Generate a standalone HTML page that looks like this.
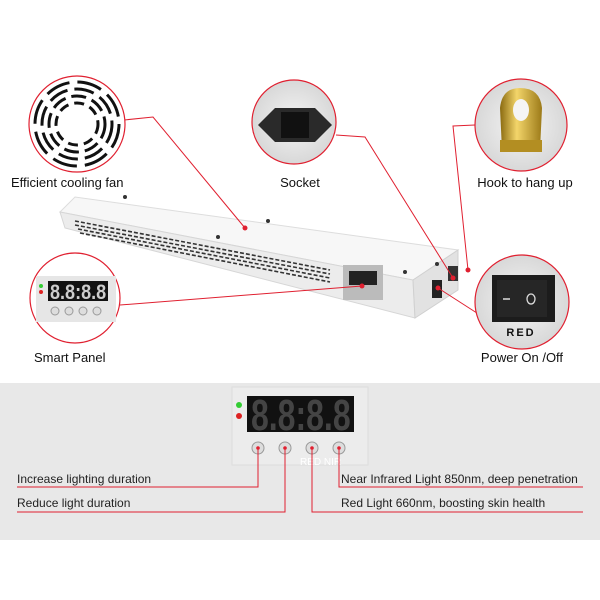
<!DOCTYPE html>
<html><head><meta charset="utf-8"><style>
body{margin:0;width:600px;height:600px;background:#fff;overflow:hidden;font-family:"Liberation Sans",sans-serif}
svg{display:block}
</style></head><body>
<svg width="600" height="600" viewBox="0 0 600 600" font-family="Liberation Sans, sans-serif">
<defs>
<radialGradient id="cg" cx="50%" cy="50%" r="50%"><stop offset="0" stop-color="#f4f4f4"/><stop offset="1" stop-color="#d8d8d8"/></radialGradient>
<linearGradient id="gold" x1="0" x2="1"><stop offset="0" stop-color="#8a6a10"/><stop offset=".4" stop-color="#f3d56a"/><stop offset="1" stop-color="#9c7a18"/></linearGradient>
</defs>
<!-- device -->
<polygon points="60,212 75,197 458,250 413,280" fill="#f7f7f7" stroke="#ddd"/>
<polygon points="60,212 413,280 415,318 65,228" fill="#ececec" stroke="#d6d6d6"/>
<polygon points="413,280 458,250 458,290 415,318" fill="#e2e2e2" stroke="#d0d0d0"/>
<g stroke="#333" stroke-width="1.6" stroke-dasharray="4 2">
<line x1="75" y1="221" x2="330" y2="270"/><line x1="75" y1="225" x2="330" y2="274"/>
<line x1="78" y1="229" x2="330" y2="278"/><line x1="80" y1="233" x2="330" y2="282"/>
</g>
<g fill="#333"><circle cx="125" cy="197" r="2"/><circle cx="268" cy="221" r="2"/><circle cx="437" cy="264" r="2"/><circle cx="405" cy="272" r="2"/><circle cx="218" cy="237" r="2"/></g>
<rect x="343" y="265" width="40" height="35" fill="#bbb"/>
<rect x="349" y="271" width="28" height="14" fill="#222"/>
<rect x="432" y="280" width="10" height="18" fill="#222"/>
<rect x="448" y="266" width="10" height="15" fill="#333"/>
<!-- red lines -->
<g stroke="#e02030" stroke-width="1" fill="none">
<polyline points="124,120 153,117 245,228"/>
<polyline points="336,135 365,137 453,278"/>
<polyline points="475,125 453,126 468,270"/>
<line x1="120" y1="305" x2="362" y2="286"/>
<line x1="480" y1="315" x2="438" y2="288"/>
</g>
<g fill="#e02030"><circle cx="245" cy="228" r="2.5"/><circle cx="453" cy="278" r="2.5"/><circle cx="468" cy="270" r="2.5"/><circle cx="362" cy="286" r="2.5"/><circle cx="438" cy="288" r="2.5"/></g>
<!-- fan -->
<circle cx="77" cy="124" r="48" fill="#fff" stroke="#e02030" stroke-width="1.2"/>
<g stroke="#111" stroke-width="3" fill="none">
<circle cx="77" cy="124" r="42" stroke-dasharray="25 8"/>
<circle cx="77" cy="124" r="35" stroke-dasharray="20 7"/>
<circle cx="77" cy="124" r="28" stroke-dasharray="15 6"/>
<circle cx="77" cy="124" r="21" stroke-dasharray="10 6"/>
</g>
<!-- socket -->
<circle cx="294" cy="122" r="42" fill="url(#cg)" stroke="#e02030" stroke-width="1.2"/>
<polygon points="258,125 275,108 315,108 332,125 315,142 275,142" fill="#2a2a2a"/>
<rect x="281" y="112" width="28" height="26" fill="#111"/>
<!-- hook -->
<circle cx="521" cy="125" r="46" fill="url(#cg)" stroke="#e02030" stroke-width="1.2"/>
<path d="M500,108 Q502,88 520,88 Q540,88 542,108 L540,150 L502,150 Z" fill="url(#gold)"/>
<ellipse cx="521" cy="110" rx="8" ry="11" fill="#f5f5f5"/>
<rect x="500" y="140" width="42" height="12" fill="#b38e22"/>
<!-- smart panel -->
<circle cx="75" cy="298" r="45" fill="#fff" stroke="#e02030" stroke-width="1.2"/>
<rect x="36" y="276" width="80" height="46" fill="#e6e6e6"/>
<rect x="48" y="281" width="60" height="20" fill="#111"/>
<text transform="translate(50,299) scale(0.95,1.1)" font-size="19" fill="#ccc" font-weight="bold">8.8:8.8</text>
<circle cx="41" cy="286" r="2" fill="#3c3"/><circle cx="41" cy="292" r="2" fill="#d22"/>
<g fill="#ddd" stroke="#999"><circle cx="55" cy="311" r="4"/><circle cx="69" cy="311" r="4"/><circle cx="83" cy="311" r="4"/><circle cx="97" cy="311" r="4"/></g>
<!-- power -->
<circle cx="522" cy="302" r="47" fill="url(#cg)" stroke="#e02030" stroke-width="1.2"/>
<rect x="492" y="275" width="63" height="47" fill="#1c1c1c"/>
<rect x="497" y="280" width="50" height="37" fill="#262626"/>
<line x1="503" y1="299" x2="510" y2="299" stroke="#ddd" stroke-width="1.5"/>
<ellipse cx="531" cy="299" rx="4" ry="5" fill="none" stroke="#ddd" stroke-width="1.3"/>
<text x="521" y="336" font-size="11" font-weight="bold" text-anchor="middle" letter-spacing="2" fill="#111">RED</text>
<!-- labels -->
<g font-size="13" fill="#111">
<text x="11" y="187">Efficient cooling fan</text>
<text x="300" y="187" text-anchor="middle">Socket</text>
<text x="525" y="187" text-anchor="middle">Hook to hang up</text>
<text x="34" y="362">Smart Panel</text>
<text x="522" y="362" text-anchor="middle">Power On /Off</text>
</g>
<!-- bottom band -->
<rect x="0" y="383" width="600" height="157" fill="#e8e8e8"/>
<rect x="232" y="387" width="136" height="78" fill="#ececec" stroke="#ddd"/>
<rect x="247" y="396" width="107" height="36" fill="#111"/>
<text transform="translate(251,430) scale(0.8,1.1)" font-size="40" fill="#444" font-weight="bold">8.8:8.8</text>
<circle cx="239" cy="405" r="3" fill="#3c3"/><circle cx="239" cy="416" r="3" fill="#d22"/>
<g fill="#ddd" stroke="#999"><circle cx="258" cy="448" r="6"/><circle cx="285" cy="448" r="6"/><circle cx="312" cy="448" r="6"/><circle cx="339" cy="448" r="6"/></g>
<text x="300" y="465" font-size="10" fill="#fff">RED NIR</text>
<g stroke="#e02030" stroke-width="1" fill="none">
<polyline points="17,487 258,487 258,448"/>
<polyline points="17,512 285,512 285,448"/>
<polyline points="583,487 339,487 339,448"/>
<polyline points="583,512 312,512 312,448"/>
</g>
<g fill="#e02030"><circle cx="258" cy="448" r="1.8"/><circle cx="285" cy="448" r="1.8"/><circle cx="312" cy="448" r="1.8"/><circle cx="339" cy="448" r="1.8"/></g>
<g font-size="12" fill="#222">
<text x="17" y="483">Increase lighting duration</text>
<text x="17" y="507">Reduce light duration</text>
<text x="341" y="483">Near Infrared Light 850nm, deep penetration</text>
<text x="341" y="507">Red Light 660nm, boosting skin health</text>
</g>
</svg>
</body></html>
